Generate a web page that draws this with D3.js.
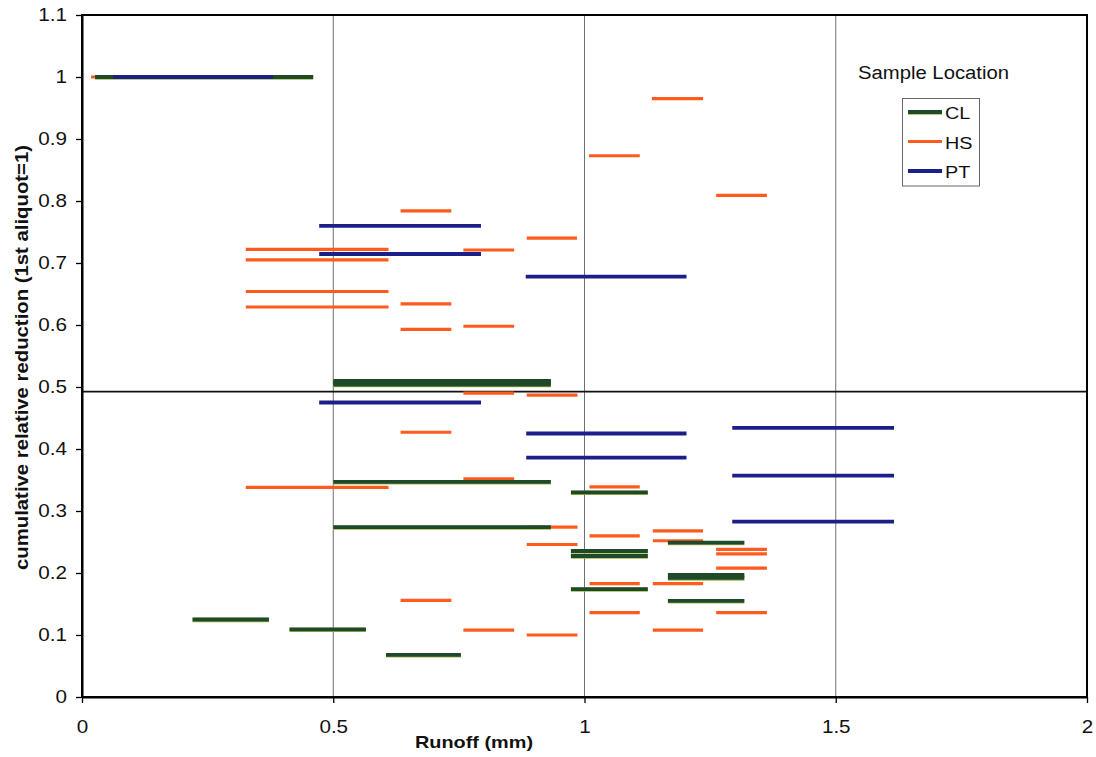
<!DOCTYPE html>
<html><head><meta charset="utf-8">
<script src="https://cdn.jsdelivr.net/npm/d3@7"></script>
<style>body{margin:0;background:#fff}</style>
</head><body>
<svg id="c" width="1096" height="757"></svg>
<script>
// ---- data: each segment is [runoff start, runoff end, cumulative relative reduction]
const legendNames = ["CL", "HS", "PT"];
const hsSegments = [
  [0.018, 0.46, 1.0],
  [1.134, 1.236, 0.965], [1.009, 1.110, 0.873], [1.262, 1.363, 0.809],
  [0.634, 0.735, 0.784], [0.885, 0.985, 0.740], [0.326, 0.610, 0.722],
  [0.759, 0.860, 0.721], [0.326, 0.610, 0.705], [0.326, 0.610, 0.654],
  [0.634, 0.735, 0.634], [0.326, 0.610, 0.629], [0.759, 0.860, 0.598],
  [0.634, 0.735, 0.593], [0.759, 0.860, 0.490], [0.885, 0.986, 0.487],
  [0.634, 0.735, 0.427], [0.759, 0.860, 0.352], [0.326, 0.610, 0.338],
  [1.010, 1.110, 0.339], [0.885, 0.986, 0.274], [1.136, 1.236, 0.268],
  [1.010, 1.110, 0.260], [1.136, 1.236, 0.252], [0.885, 0.986, 0.246],
  [1.262, 1.363, 0.238], [1.262, 1.363, 0.231], [1.262, 1.363, 0.208],
  [1.010, 1.110, 0.183], [1.136, 1.236, 0.183], [0.634, 0.735, 0.156],
  [1.010, 1.110, 0.136], [1.262, 1.363, 0.136], [0.759, 0.860, 0.108],
  [1.136, 1.236, 0.108], [0.885, 0.986, 0.100]
];
const clSegments = [
  [0.026, 0.46, 1.0],
  [0.5, 0.933, 0.510], [0.5, 0.933, 0.507], [0.5, 0.933, 0.504],
  [0.5, 0.933, 0.347], [0.973, 1.126, 0.330], [0.5, 0.933, 0.274],
  [1.166, 1.318, 0.249], [0.973, 1.126, 0.2355], [0.973, 1.126, 0.2274],
  [1.166, 1.318, 0.197], [1.166, 1.318, 0.192], [0.973, 1.126, 0.174],
  [1.166, 1.318, 0.155], [0.220, 0.372, 0.125], [0.413, 0.565, 0.109],
  [0.605, 0.754, 0.068]
];
const ptSegments = [
  [0.062, 0.38, 1.0],
  [0.472, 0.794, 0.760], [0.472, 0.794, 0.7145], [0.883, 1.203, 0.678],
  [0.472, 0.794, 0.475], [1.294, 1.616, 0.434], [0.884, 1.203, 0.425],
  [0.884, 1.203, 0.386], [1.294, 1.616, 0.357], [1.294, 1.616, 0.283]
];
const refLineY = [0.4925];
const xTicks = [0, 0.5, 1, 1.5, 2];
const xTickLabels = ["0", "0.5", "1", "1.5", "2"];
const yTicks = [0, 0.1, 0.2, 0.3, 0.4, 0.5, 0.6, 0.7, 0.8, 0.9, 1, 1.1];
const yTickLabels = ["0", "0.1", "0.2", "0.3", "0.4", "0.5", "0.6", "0.7", "0.8", "0.9", "1", "1.1"];
const xGrid = [0.5, 1, 1.5];

// ---- styles
const colors = { CL: "#1f4a2a", HS: "#ff5b1f", PT: "#1b1f8a" };
const widths = { CL: 3.8, HS: 3.2, PT: 3.8 };
const FONT = "'Liberation Sans', Arial, Helvetica, sans-serif";

const svg = d3.select("#c");
const L = 82, R = 1087, T = 15, B = 697;
const x = d3.scaleLinear().domain([0, 2]).range([L, R]);
const y = d3.scaleLinear().domain([0, 1.1]).range([B, T]);

// grid
svg.append("g").selectAll("line").data(xGrid).join("line")
  .attr("x1", d => x(d)).attr("x2", d => x(d))
  .attr("y1", T).attr("y2", B)
  .attr("stroke", "#707070").attr("stroke-width", 1);

// reference line
svg.append("g").selectAll("line").data(refLineY).join("line")
  .attr("x1", L).attr("x2", R)
  .attr("y1", d => y(d)).attr("y2", d => y(d))
  .attr("stroke", "#111").attr("stroke-width", 1.6);

function drawSeries(name, segs) {
  const g = svg.append("g");
  if (name === "CL") {
    g.selectAll("line.u").data(segs).join("line").attr("class", "u")
      .attr("x1", d => x(d[0])).attr("x2", d => x(d[1]))
      .attr("y1", d => y(d[2]) + 0.5).attr("y2", d => y(d[2]) + 0.5)
      .attr("stroke", "#a9b84a").attr("stroke-width", widths.CL + 0.6);
  }
  g.selectAll("line.s").data(segs).join("line").attr("class", "s")
    .attr("x1", d => x(d[0])).attr("x2", d => x(d[1]))
    .attr("y1", d => y(d[2])).attr("y2", d => y(d[2]))
    .attr("stroke", colors[name]).attr("stroke-width", widths[name]);
}
drawSeries("HS", hsSegments);
drawSeries("CL", clSegments);
drawSeries("PT", ptSegments);

// axes
const yAxis = d3.axisLeft(y).tickValues(yTicks)
  .tickFormat((d, i) => yTickLabels[i]).tickSize(6).tickSizeOuter(0);
const gy = svg.append("g").attr("transform", `translate(${L},0)`).call(yAxis);
gy.selectAll("text").attr("x", -15 / 1.18).attr("transform", "scale(1.18,1)")
  .attr("font-family", FONT).attr("font-size", 17.5).attr("fill", "#111");

const xAxis = d3.axisBottom(x).tickValues(xTicks)
  .tickFormat((d, i) => xTickLabels[i]).tickSize(6).tickSizeOuter(0);
const gx = svg.append("g").attr("transform", `translate(0,${B})`).call(xAxis);
gx.selectAll("text").attr("y", 36).attr("dy", 0).attr("transform", "scale(1.18,1)")
  .attr("font-family", FONT).attr("font-size", 17.5).attr("fill", "#111");

[gx, gy].forEach(g => {
  g.select(".domain").attr("stroke", "#000").attr("stroke-width", 2);
  g.selectAll(".tick line").attr("stroke", "#000").attr("stroke-width", 1.3);
});

// frame
svg.append("rect").attr("x", L).attr("y", T).attr("width", R - L).attr("height", B - T)
  .attr("fill", "none").attr("stroke", "#000").attr("stroke-width", 2);

// axis titles
svg.append("text").attr("x", 474).attr("y", 748).attr("text-anchor", "middle")
  .attr("font-family", FONT).attr("font-weight", "bold").attr("font-size", 17)
  .attr("textLength", 118).attr("lengthAdjust", "spacingAndGlyphs").attr("fill", "#111")
  .text("Runoff (mm)");
svg.append("text").attr("transform", "translate(27.5,357.5) rotate(-90)")
  .attr("text-anchor", "middle")
  .attr("font-family", FONT).attr("font-weight", "bold").attr("font-size", 18)
  .attr("textLength", 425).attr("lengthAdjust", "spacingAndGlyphs").attr("fill", "#111")
  .text("cumulative relative reduction (1st aliquot=1)");

// legend
svg.append("text").attr("x", 858).attr("y", 79)
  .attr("font-family", FONT).attr("font-size", 18)
  .attr("textLength", 151).attr("lengthAdjust", "spacingAndGlyphs").attr("fill", "#111")
  .text("Sample Location");
svg.append("rect").attr("x", 902.5).attr("y", 98.5).attr("width", 77).attr("height", 87.5)
  .attr("fill", "#fff").attr("stroke", "#666").attr("stroke-width", 1);
const ly = d3.scalePoint().domain(legendNames).range([112, 171]);
const lg = svg.append("g").selectAll("g").data(legendNames).join("g")
  .attr("transform", d => `translate(0,${ly(d)})`);
lg.filter(d => d === "CL").append("line")
  .attr("x1", 908).attr("x2", 942).attr("y1", 0.5).attr("y2", 0.5)
  .attr("stroke", "#a9b84a").attr("stroke-width", widths.CL + 0.6);
lg.append("line").attr("x1", 908).attr("x2", 942).attr("y1", 0).attr("y2", 0)
  .attr("stroke", d => colors[d]).attr("stroke-width", d => widths[d]);
lg.append("text").attr("transform", "translate(945,7) scale(1.2,1)")
  .attr("font-family", FONT).attr("font-size", 16.5).attr("fill", "#111")
  .text(d => d);
</script>
</body></html>
